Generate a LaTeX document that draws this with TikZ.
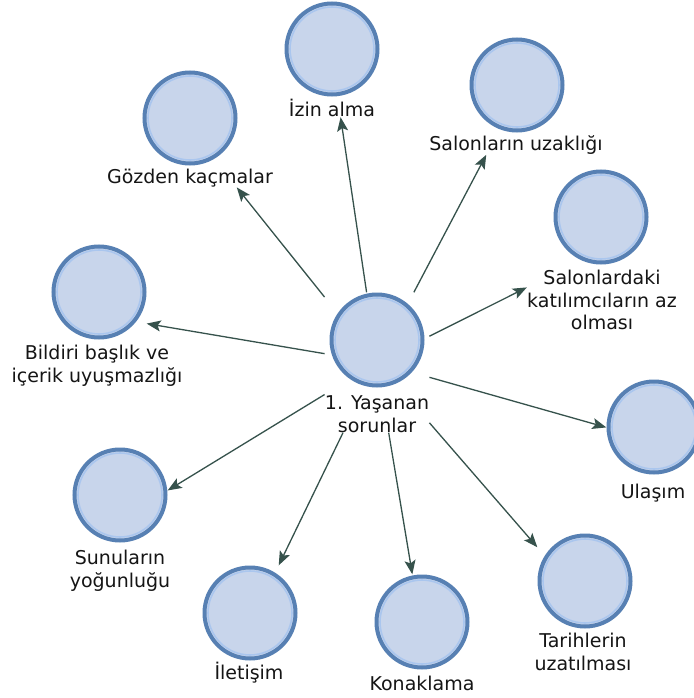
\documentclass[tikz,border=0pt]{standalone}
\usepackage{fontspec}
\setmainfont{DejaVu Sans}
\usetikzlibrary{fit,arrows.meta}
\definecolor{cfill}{HTML}{C8D5EB}
\definecolor{cborder}{HTML}{5780B3}
\definecolor{cinner}{HTML}{AAC6EE}
\definecolor{carrow}{HTML}{36524C}
\definecolor{ctext}{HTML}{151515}
\tikzset{
  bubble/.style={circle, minimum size=91pt, inner sep=0pt, fill=cfill, draw=cborder, line width=4pt,
    path picture={\draw[cinner, line width=1.6pt] (path picture bounding box.center) circle (42pt);}},
  lbl/.style={inner sep=0pt, align=center, font=\fontsize{19}{22.5}\selectfont, text=ctext},
  bbox/.style={inner sep=0pt, draw=none},
  arr/.style={draw=carrow, line width=1.3pt, -{Stealth[length=14pt,width=11pt,inset=3pt]}}
}
\begin{document}
\begin{tikzpicture}[x=1pt,y=1pt]
\useasboundingbox (0,0) rectangle (693,-698);
\fill[white] (0,0) rectangle (693,-698);

% centre
\node[bubble] (c0c) at (377,-340) {};
\node[lbl] (c0l) at (377,-414) {1. Yaşanan\\sorunlar};
\node[bbox, fit=(c0c)(c0l)] (c0) {};

% satellites
\node[bubble] (izinc) at (332,-49) {};
\node[lbl] (izinl) at (332,-108) {İzin alma};
\node[bbox, fit=(izinc)(izinl.south)] (izin) {};

\node[bubble] (gozc) at (190,-118) {};
\node[lbl] (gozl) at (190,-178) {Gözden kaçmalar};
\node[bbox, fit=(gozc)(gozl.south)] (goz) {};

\node[bubble] (uzakc) at (517,-85) {};
\node[lbl] (uzakl) at (516,-145) {Salonların uzaklığı};
\node[bbox, fit=(uzakc)(uzakl.south)] (uzak) {};

\node[bubble] (katc) at (601,-217) {};
\node[lbl] (katl) at (602,-300) {Salonlardaki\\katılımcıların az\\olması};
\node[bbox, fit=(katc)(katl)] (kat) {};

\node[bubble] (bilc) at (99,-292) {};
\node[lbl] (bill) at (97,-366) {Bildiri başlık ve\\içerik uyuşmazlığı};
\node[bbox, fit=(bilc)(bill.south)] (bil) {};

\node[bubble] (ulac) at (654,-427) {};
\node[lbl] (ulal) at (653,-493) {Ulaşım};
\node[bbox, fit=(ulac)(ulal.south)] (ula) {};

\node[bubble] (sunc) at (120,-495) {};
\node[lbl] (sunl) at (120,-571) {Sunuların\\yoğunluğu};
\node[bbox, fit=(sunc)(sunl.south)] (sun) {};

\node[bubble] (iletc) at (250,-613) {};
\node[lbl] (iletl) at (249,-673) {İletişim};
\node[bbox, fit=(iletc)(iletl.south)] (ilet) {};

\node[bubble] (konc) at (422,-622) {};
\node[lbl] (konl) at (422,-683) {Konaklama};
\node[bbox, fit=(konc)(konl.south)] (kon) {};

\node[bubble] (tarc) at (585,-581) {};
\node[lbl] (tarl) at (583,-652) {Tarihlerin\\uzatılması};
\node[bbox, fit=(tarc)(tarl.south)] (tar) {};

% connectors
\foreach \t in {izin,goz,uzak,kat,bil,ula,sun,ilet,kon,tar}
  \draw[arr] (c0) -- (\t);
\end{tikzpicture}
\end{document}
